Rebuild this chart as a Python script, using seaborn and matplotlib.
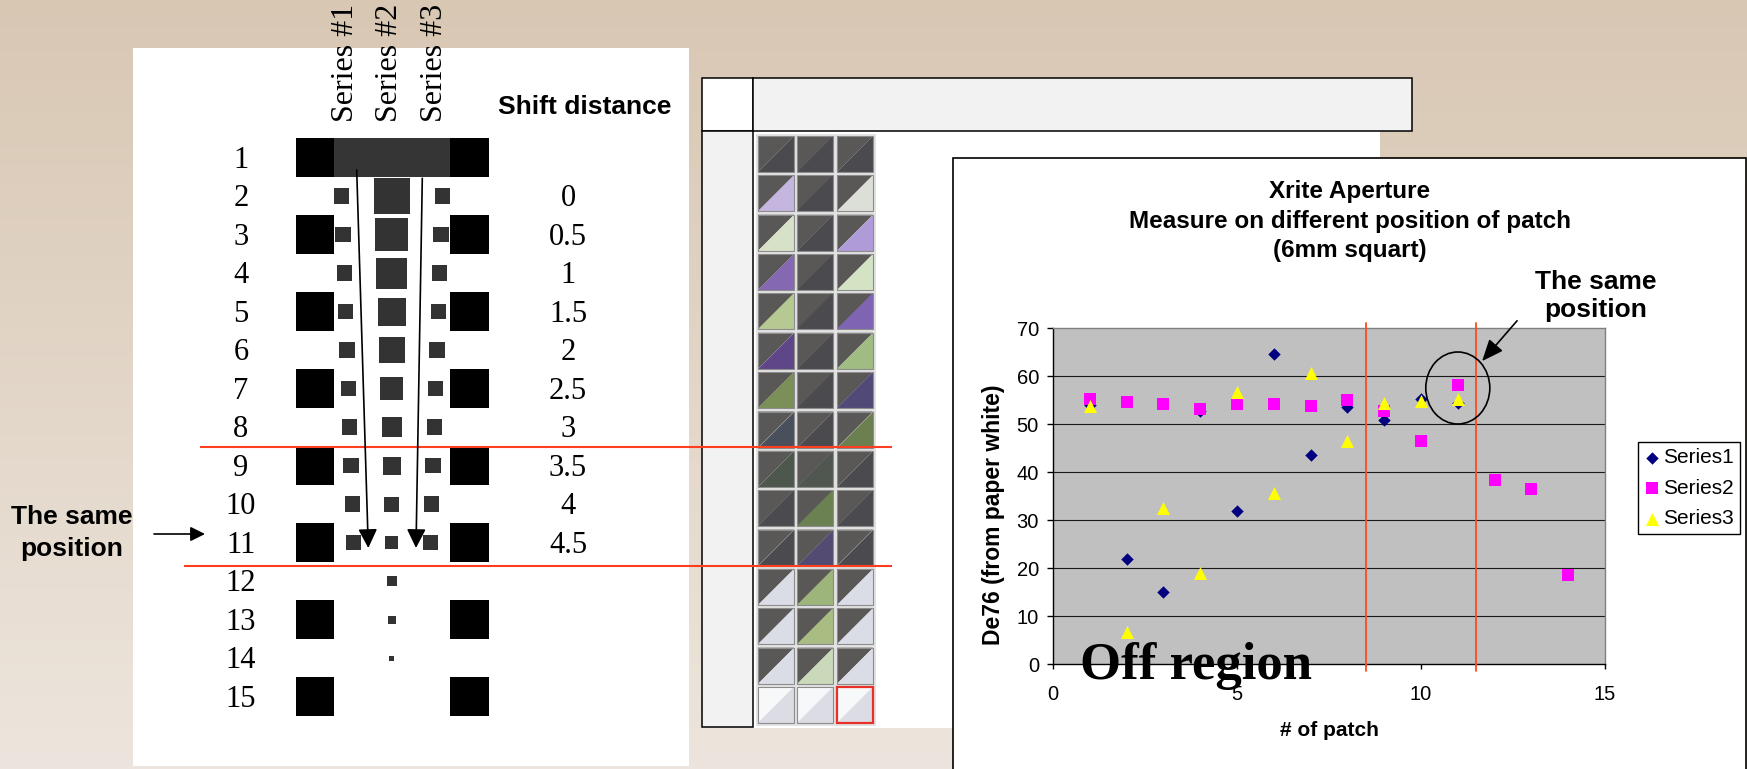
import numpy as np
import pandas as pd
import matplotlib
matplotlib.use("Agg")
import matplotlib.pyplot as plt
from matplotlib.patches import Rectangle, Polygon, Ellipse
import seaborn as sns

# ------------------------------------------------------------------
# Measured colour difference (De76 from paper white) per patch number
# ------------------------------------------------------------------
patch_no = [1, 2, 3, 4, 5, 6, 7, 8, 9, 10, 11, 12, 13, 14]
series1 = [54.0, 21.8, 15.1, 52.7, 31.8, 64.5, 43.5, 53.6, 50.8, 55.3, 54.4]
series2 = [55.3, 54.6, 54.2, 53.1, 54.2, 54.2, 53.8, 55.1, 52.8, 46.5, 58.1, 38.3, 36.4, 18.5]
series3 = [53.8, 6.7, 32.6, 18.9, 56.7, 35.7, 60.6, 46.5, 54.3, 54.8, 55.3]
series_names = ["Series1", "Series2", "Series3"]
x_ticks = [0, 5, 10, 15]
y_ticks = [0, 10, 20, 30, 40, 50, 60, 70]
boundaries = [8.5, 11.5]          # patch numbers bounding the on-patch region
same_position = (11, 57.5)        # patch measured at the same position

# Test-chart layout: rows, shift distance (mm) and central patch size
row_numbers = list(range(1, 16))
shift_distance = [0, 0.5, 1, 1.5, 2, 2.5, 3, 3.5, 4, 4.5]      # rows 2..11
aperture_patch = [36, 33, 31, 28, 26, 23, 20, 18, 15, 13, 10, 8, 5, 0]  # rows 2..15
column_titles = ["Series #1", "Series #2", "Series #3"]

# Printed test patches: lower-right half colour of each cell (rows 1..15)
DK = "#4b4b4f"
LG = "#dadde6"
cell_colors = [
    [DK, DK, DK],
    ["#c5b6e0", DK, "#dcdfd7"],
    ["#d6e1c8", DK, "#b09bd9"],
    ["#8568b2", DK, "#d5e3c5"],
    ["#b6c993", DK, "#7f64b3"],
    ["#5f4689", DK, "#a0bc82"],
    ["#7b9059", DK, "#514a78"],
    ["#4a4f5c", DK, "#6b7f51"],
    ["#4d574b", "#505750", DK],
    [DK, "#6b8151", DK],
    [DK, "#534b72", DK],
    [LG, "#9db57a", LG],
    [LG, "#a9bd82", LG],
    [LG, "#c9d9b9", LG],
    ["#dcdde4", "#dcdde4", "#dcdde4"],
]
cell_upper = ["#5a5856"] * 14 + ["#f7f8fa"]

# ------------------------------------------------------------------
sns.set_theme(style="white")
plt.rcParams["font.family"] = ["Liberation Sans", "DejaVu Sans"]
plt.rcParams["text.color"] = "black"
plt.rcParams["axes.labelcolor"] = "black"
plt.rcParams["xtick.color"] = "black"
plt.rcParams["ytick.color"] = "black"
SERIF = ["Liberation Serif", "DejaVu Serif"]

W, H = 1747, 769
fig = plt.figure(figsize=(W / 100, H / 100), dpi=100)

# slide background gradient
bg = fig.add_axes([0, 0, 1, 1], zorder=0)
top_c = np.array([216, 199, 179]) / 255
bot_c = np.array([237, 229, 221]) / 255
t = np.linspace(0, 1, 256)[:, None]
grad = top_c[None, :] * (1 - t) + bot_c[None, :] * t
bg.imshow(grad[:, None, :], aspect="auto", extent=[0, 1, 0, 1])
bg.set_xlim(0, 1)
bg.set_ylim(0, 1)
bg.axis("off")


def pixel_axes(z):
    a = fig.add_axes([0, 0, 1, 1], zorder=z)
    a.set_xlim(0, W)
    a.set_ylim(H, 0)
    a.axis("off")
    return a


canvas = pixel_axes(1)

# ---------------- test chart layout (left) ----------------
canvas.add_patch(Rectangle((133, 48), 556, 718, fc="white", ec="none"))
ROW0, PITCH, CX = 157.5, 38.5, 392


def row_y(r):
    return ROW0 + (r - 1) * PITCH


for r in range(1, 16, 2):
    y = row_y(r)
    for x0 in (296, 450.5):
        canvas.add_patch(Rectangle((x0, y - 19.5), 38.5, 39, fc="black", ec="none"))
canvas.add_patch(Rectangle((334.5, row_y(1) - 19.5), 116, 39, fc="#353535", ec="none"))

for r, s in zip(range(2, 16), aperture_patch):
    if s > 0:
        canvas.add_patch(Rectangle((CX - s / 2, row_y(r) - s / 2), s, s, fc="#333333", ec="none"))

for r, sh in zip(range(2, 12), shift_distance):
    off = 50.3 - 2.65 * sh
    for side in (-1, 1):
        canvas.add_patch(Rectangle((CX + side * off - 7.75, row_y(r) - 7.75), 15.5, 15.5,
                                   fc="#333333", ec="none"))

for r in row_numbers:
    canvas.text(241, row_y(r) + 10.3, str(r), fontsize=22, family=SERIF,
                ha="center", va="baseline")
for r, sh in zip(range(2, 12), shift_distance):
    canvas.text(568, row_y(r) + 10.3, f"{sh:g}", fontsize=22, family=SERIF,
                ha="center", va="baseline")

for xc, title in zip((343, 387, 432), column_titles):
    canvas.text(xc + 10.5, 122, title, fontsize=23, family=SERIF, rotation=90,
                rotation_mode="anchor", ha="left", va="baseline")
canvas.text(585, 113.5, "Shift distance", fontsize=19, fontweight="bold",
            ha="center", va="baseline")

for (x1, y1), (x2, y2) in [((356.7, 170), (368.3, 548)), ((422.3, 178.3), (416, 548))]:
    canvas.annotate("", xy=(x2, y2), xytext=(x1, y1),
                    arrowprops=dict(arrowstyle="-|>,head_length=0.4,head_width=0.2",
                                    mutation_scale=29, lw=1.2, color="black",
                                    shrinkA=0, shrinkB=0))

canvas.text(72, 524, "The same", fontsize=19, fontweight="bold", ha="center", va="baseline")
canvas.text(72, 556, "position", fontsize=19, fontweight="bold", ha="center", va="baseline")
canvas.annotate("", xy=(205, 534), xytext=(154, 534),
                arrowprops=dict(arrowstyle="-|>,head_length=0.4,head_width=0.2",
                                mutation_scale=22, lw=1.2, color="black",
                                shrinkA=0, shrinkB=0))

# ---------------- spreadsheet with printed patches (middle) ----------------
canvas.add_patch(Rectangle((753, 131), 627, 597, fc="white", ec="none"))
canvas.add_patch(Rectangle((702, 78), 51, 53, fc="white", ec="black", lw=1.1))
canvas.add_patch(Rectangle((753, 78), 659, 53, fc="#f2f2f2", ec="black", lw=1.1))
canvas.add_patch(Rectangle((702, 131), 51, 596, fc="#f2f2f2", ec="black", lw=1.1))
canvas.add_patch(Rectangle((756, 134), 120, 592, fc="#e2e2e2", ec="none"))

CS = 36
for r in range(15):
    for c in range(3):
        x0 = 758 + c * 39.5
        y0 = 136 + r * 39.36
        canvas.add_patch(Polygon([(x0, y0), (x0 + CS, y0), (x0, y0 + CS)],
                                 closed=True, fc=cell_upper[r], ec="none"))
        canvas.add_patch(Polygon([(x0 + CS, y0), (x0 + CS, y0 + CS), (x0, y0 + CS)],
                                 closed=True, fc=cell_colors[r][c], ec="none"))
        last = (r == 14 and c == 2)
        canvas.add_patch(Rectangle((x0, y0), CS, CS, fc="none",
                                   ec="#e8302a" if last else "#8c8c8c",
                                   lw=1.6 if last else 0.8))

# boundary lines across the layout
for y, x0 in ((447, 200), (566, 184)):
    canvas.plot([x0, 892], [y, y], color="#ff3d1f", lw=1.5, solid_capstyle="butt")

# ---------------- chart panel (right) ----------------
panel = pixel_axes(2)
panel.add_patch(Rectangle((953, 158), 793, 640, fc="white", ec="black", lw=1.2))
for yb, line in zip((198, 228, 257), ("Xrite Aperture",
                                      "Measure on different position of patch",
                                      "(6mm squart)")):
    panel.text(1350, yb, line, fontsize=17.5, fontweight="bold", ha="center", va="baseline")

ax = fig.add_axes([1053 / W, 1 - 664 / H, 552 / W, 336 / H], zorder=3)
ax.set_facecolor("#c0c0c0")

frames = [pd.DataFrame({"patch": patch_no[:len(v)], "De76": v, "series": n})
          for n, v in zip(series_names, (series1, series2, series3))]
df = pd.concat(frames, ignore_index=True)

styles = {
    "Series1": dict(marker="D", s=40, color="#000080"),
    "Series2": dict(marker="s", s=64, color="#ff00ff"),
    "Series3": dict(marker="^", s=88, color="#ffff00"),
}
for i, name in enumerate(series_names):
    sns.scatterplot(data=df[df["series"] == name], x="patch", y="De76", ax=ax,
                    linewidth=0, label=name, zorder=4 + i, **styles[name])

for yv in y_ticks[1:-1]:
    ax.axhline(yv, color="#1a1a1a", lw=0.8, zorder=1)

ax.set_xlim(0, 15)
ax.set_ylim(0, 70)
ax.set_xticks(x_ticks)
ax.set_yticks(y_ticks)
ax.tick_params(axis="x", direction="out", length=3.6, width=1, pad=11.5, labelsize=14.5,
               bottom=True)
ax.tick_params(axis="y", direction="out", length=4.3, width=1, pad=5.8, labelsize=14.5,
               left=True)
for side in ("left", "bottom"):
    ax.spines[side].set_color("black")
    ax.spines[side].set_linewidth(1.0)
for side in ("top", "right"):
    ax.spines[side].set_color("#808080")
    ax.spines[side].set_linewidth(1.0)

ax.set_xlabel("# of patch", fontsize=15, fontweight="bold")
ax.set_ylabel("De76 (from paper white)", fontsize=16.5, fontweight="bold")
ax.xaxis.set_label_coords(0.5, -0.17)
ax.yaxis.set_label_coords(-0.087, 0.443)

for xb in boundaries:
    ax.plot([xb, xb], [-1.5, 71.0], color="#ff4a1c", lw=1.3, clip_on=False, zorder=3)

ax.add_patch(Ellipse(same_position, width=1.74, height=15, fc="none", ec="black",
                     lw=1.2, clip_on=False, zorder=8))
ax.annotate("", xy=(11.66, 63.1), xytext=(12.61, 71.5), annotation_clip=False,
            arrowprops=dict(arrowstyle="-|>,head_length=0.6,head_width=0.25",
                            mutation_scale=22, lw=1.2, color="black",
                            shrinkA=0, shrinkB=0))
ax.text(14.76, 78.2, "The same", fontsize=19, fontweight="bold", ha="center",
        va="baseline", clip_on=False)
ax.text(14.76, 72.2, "position", fontsize=19, fontweight="bold", ha="center",
        va="baseline", clip_on=False)
ax.text(0.73, -3.1, "Off region", fontsize=38, fontweight="bold", family=SERIF,
        ha="left", va="baseline", clip_on=False, zorder=10)

leg = ax.legend(loc="upper left", bbox_to_anchor=(1638 / W, 1 - 442 / H),
                bbox_transform=fig.transFigure, frameon=True, fancybox=False,
                edgecolor="black", framealpha=1, fontsize=15, handlelength=0.7,
                handletextpad=0.2, labelspacing=0.55, borderpad=0.3, borderaxespad=0)
leg.get_frame().set_linewidth(1.0)

fig.savefig("out.png", dpi=100)
